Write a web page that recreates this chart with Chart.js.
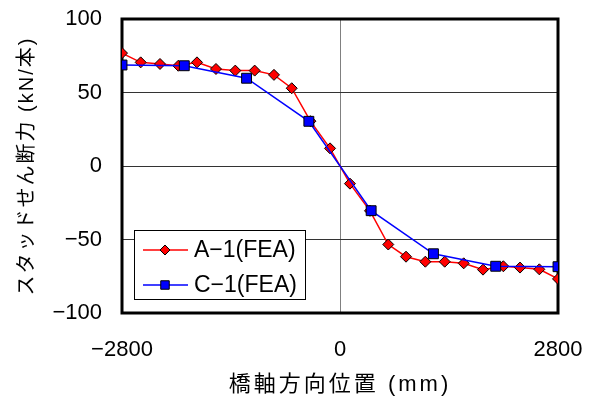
<!DOCTYPE html>
<html lang="ja">
<head>
<meta charset="utf-8">
<title>スタッドせん断力</title>
<script src="https://cdn.jsdelivr.net/npm/chart.js@4.4.1/dist/chart.umd.min.js"></script>
<style>
    html, body { margin: 0; padding: 0; background: #ffffff; }
    #wrap { width: 595px; height: 398px; }
</style>
</head>
<body>
<div id="wrap"><canvas id="shearChart" width="595" height="398"></canvas></div>
<script>
// Data (position in mm, shear force in kN per stud)
const a1Label = 'A\u22121(FEA)';
const a1X = [-2800, -2560, -2312, -2077, -1837, -1593, -1345, -1096, -848, -620, -380, -128,
             128, 385, 620, 848, 1096, 1345, 1589, 1837, 2098, 2312, 2560, 2800];
const a1Y = [76.8, 70.5, 69.4, 68.2, 70.5, 66.0, 64.9, 64.9, 62.0, 52.9, 30.5, 12.0,
             -12.0, -30.5, -53.4, -61.7, -65.1, -65.1, -66.2, -70.5, -68.2, -69.1, -70.3, -76.8];

const c1Label = 'C\u22121(FEA)';
const c1X = [-2800, -2000, -1200, -400, 400, 1200, 2000, 2800];
const c1Y = [68.7, 68.2, 59.7, 30.4, -30.4, -59.7, -68.2, -68.5];

const xTickValues = [-2800, 0, 2800];
const yTickValues = [-100, -50, 0, 50, 100];

const xTitle = '橋軸方向位置 (mm)';
const yTitle = 'スタッドせん断力 (kN/本)';

(function() {
    const font = "'Liberation Sans', 'Noto Sans CJK JP', sans-serif";

    const toPoints = (xs, ys) => xs.map((x, i) => ({ x: x, y: ys[i] }));
    const fmt = v => String(v).replace('-', '\u2212');

    // the axis titles in the figure are spaced out a little
    const spaceTitle = (scale, spacing) => {
        if (!scale || scale._spaced) return;
        const orig = scale.drawTitle;
        scale.drawTitle = function() {
            this.ctx.save();
            this.ctx.letterSpacing = spacing;
            orig.call(this);
            this.ctx.restore();
        };
        scale._spaced = true;
    };

    /**
     * Thick frame round the plot area, under the markers
     */
    const framePlugin = {
        id: 'frame',
        afterLayout(chart) {
            spaceTitle(chart.scales.x, '3px');
            spaceTitle(chart.scales.y, '2px');
        },
        beforeDatasetsDraw(chart) {
            const { ctx, chartArea: a } = chart;
            ctx.save();
            ctx.strokeStyle = '#000000';
            ctx.lineWidth = 3;
            ctx.strokeRect(a.left, a.top, a.right - a.left, a.bottom - a.top);
            ctx.restore();
        }
    };

    /**
     * Boxed legend inside the plot, lower left
     */
    const boxLegendPlugin = {
        id: 'boxLegend',
        afterDatasetsDraw(chart) {
            const { ctx, chartArea: a } = chart;
            const left = a.left + 12, top = a.top + 211, w = 171, h = 69;
            ctx.save();
            ctx.fillStyle = '#ffffff';
            ctx.fillRect(left, top, w, h);
            ctx.strokeStyle = '#000000';
            ctx.lineWidth = 1;
            ctx.strokeRect(left + 0.5, top + 0.5, w, h);

            [0, 1].forEach((di, row) => {
                const ds = chart.data.datasets[di];
                const y = top + 20 + row * 35;
                ctx.strokeStyle = ds.borderColor;
                ctx.lineWidth = 1.5;
                ctx.beginPath();
                ctx.moveTo(left + 9, y);
                ctx.lineTo(left + 54, y);
                ctx.stroke();
                ctx.fillStyle = ds.pointBackgroundColor;
                ctx.strokeStyle = ds.pointBorderColor;
                ctx.lineWidth = 1;
                Chart.helpers.drawPoint(ctx, {
                    pointStyle: ds.pointStyle,
                    radius: ds.legendRadius,
                    rotation: 0,
                    borderWidth: 1
                }, left + 31, y);
                ctx.fillStyle = '#000000';
                ctx.font = '23px ' + font;
                ctx.textBaseline = 'middle';
                ctx.textAlign = 'left';
                ctx.fillText(ds.label, left + 60, y + 1);
            });
            ctx.restore();
        }
    };

    new Chart(document.getElementById('shearChart'), {
        type: 'line',
        data: {
            datasets: [{
                label: a1Label,
                data: toPoints(a1X, a1Y),
                borderColor: '#ff0000',
                borderWidth: 1.5,
                pointStyle: 'rectRot',
                pointRadius: 5.5,
                legendRadius: 5,
                pointBackgroundColor: '#ff0000',
                pointBorderColor: '#000000',
                pointBorderWidth: 1,
                tension: 0,
                order: 2
            }, {
                label: c1Label,
                data: toPoints(c1X, c1Y),
                borderColor: '#0000ff',
                borderWidth: 1.5,
                pointStyle: 'rect',
                pointRadius: 7,
                legendRadius: 6,
                pointBackgroundColor: '#0000ff',
                pointBorderColor: '#000000',
                pointBorderWidth: 1,
                tension: 0,
                order: 1
            }]
        },
        options: {
            responsive: false,
            animation: false,
            layout: { padding: { top: 19, right: 37, left: 0, bottom: 0 } },
            plugins: {
                legend: { display: false },
                tooltip: { enabled: false }
            },
            scales: {
                x: {
                    type: 'linear',
                    min: -2800,
                    max: 2800,
                    afterBuildTicks: s => { s.ticks = xTickValues.map(v => ({ value: v })); },
                    afterFit: s => {
                        s.height = 85;
                        s.paddingLeft = 0;
                        s.paddingRight = 0;
                    },
                    ticks: {
                        callback: fmt,
                        color: '#000000',
                        font: { family: font, size: 22 },
                        padding: 24,
                        maxRotation: 0
                    },
                    grid: {
                        drawTicks: false,
                        lineWidth: 1,
                        color: c => (c.tick && c.tick.value === 0) ? '#808080' : 'rgba(0,0,0,0)'
                    },
                    border: { display: false },
                    title: {
                        display: true,
                        text: xTitle,
                        color: '#000000',
                        font: { family: font, size: 22 },
                        padding: { top: 0, bottom: 0 }
                    }
                },
                y: {
                    min: -100,
                    max: 100,
                    afterBuildTicks: s => { s.ticks = yTickValues.map(v => ({ value: v })); },
                    afterFit: s => {
                        s.width = 122;
                        s.paddingTop = 0;
                        s.paddingBottom = 0;
                    },
                    ticks: {
                        callback: fmt,
                        color: '#000000',
                        font: { family: font, size: 22 },
                        padding: 20
                    },
                    grid: {
                        drawTicks: false,
                        lineWidth: 1,
                        color: c => (c.tick && Math.abs(c.tick.value) === 100) ? 'rgba(0,0,0,0)' : '#333333'
                    },
                    border: { display: false },
                    title: {
                        display: true,
                        text: yTitle,
                        color: '#000000',
                        font: { family: font, size: 20 },
                        padding: { top: 15, bottom: 0 }
                    }
                }
            }
        },
        plugins: [framePlugin, boxLegendPlugin]
    });
})();
</script>
</body>
</html>
